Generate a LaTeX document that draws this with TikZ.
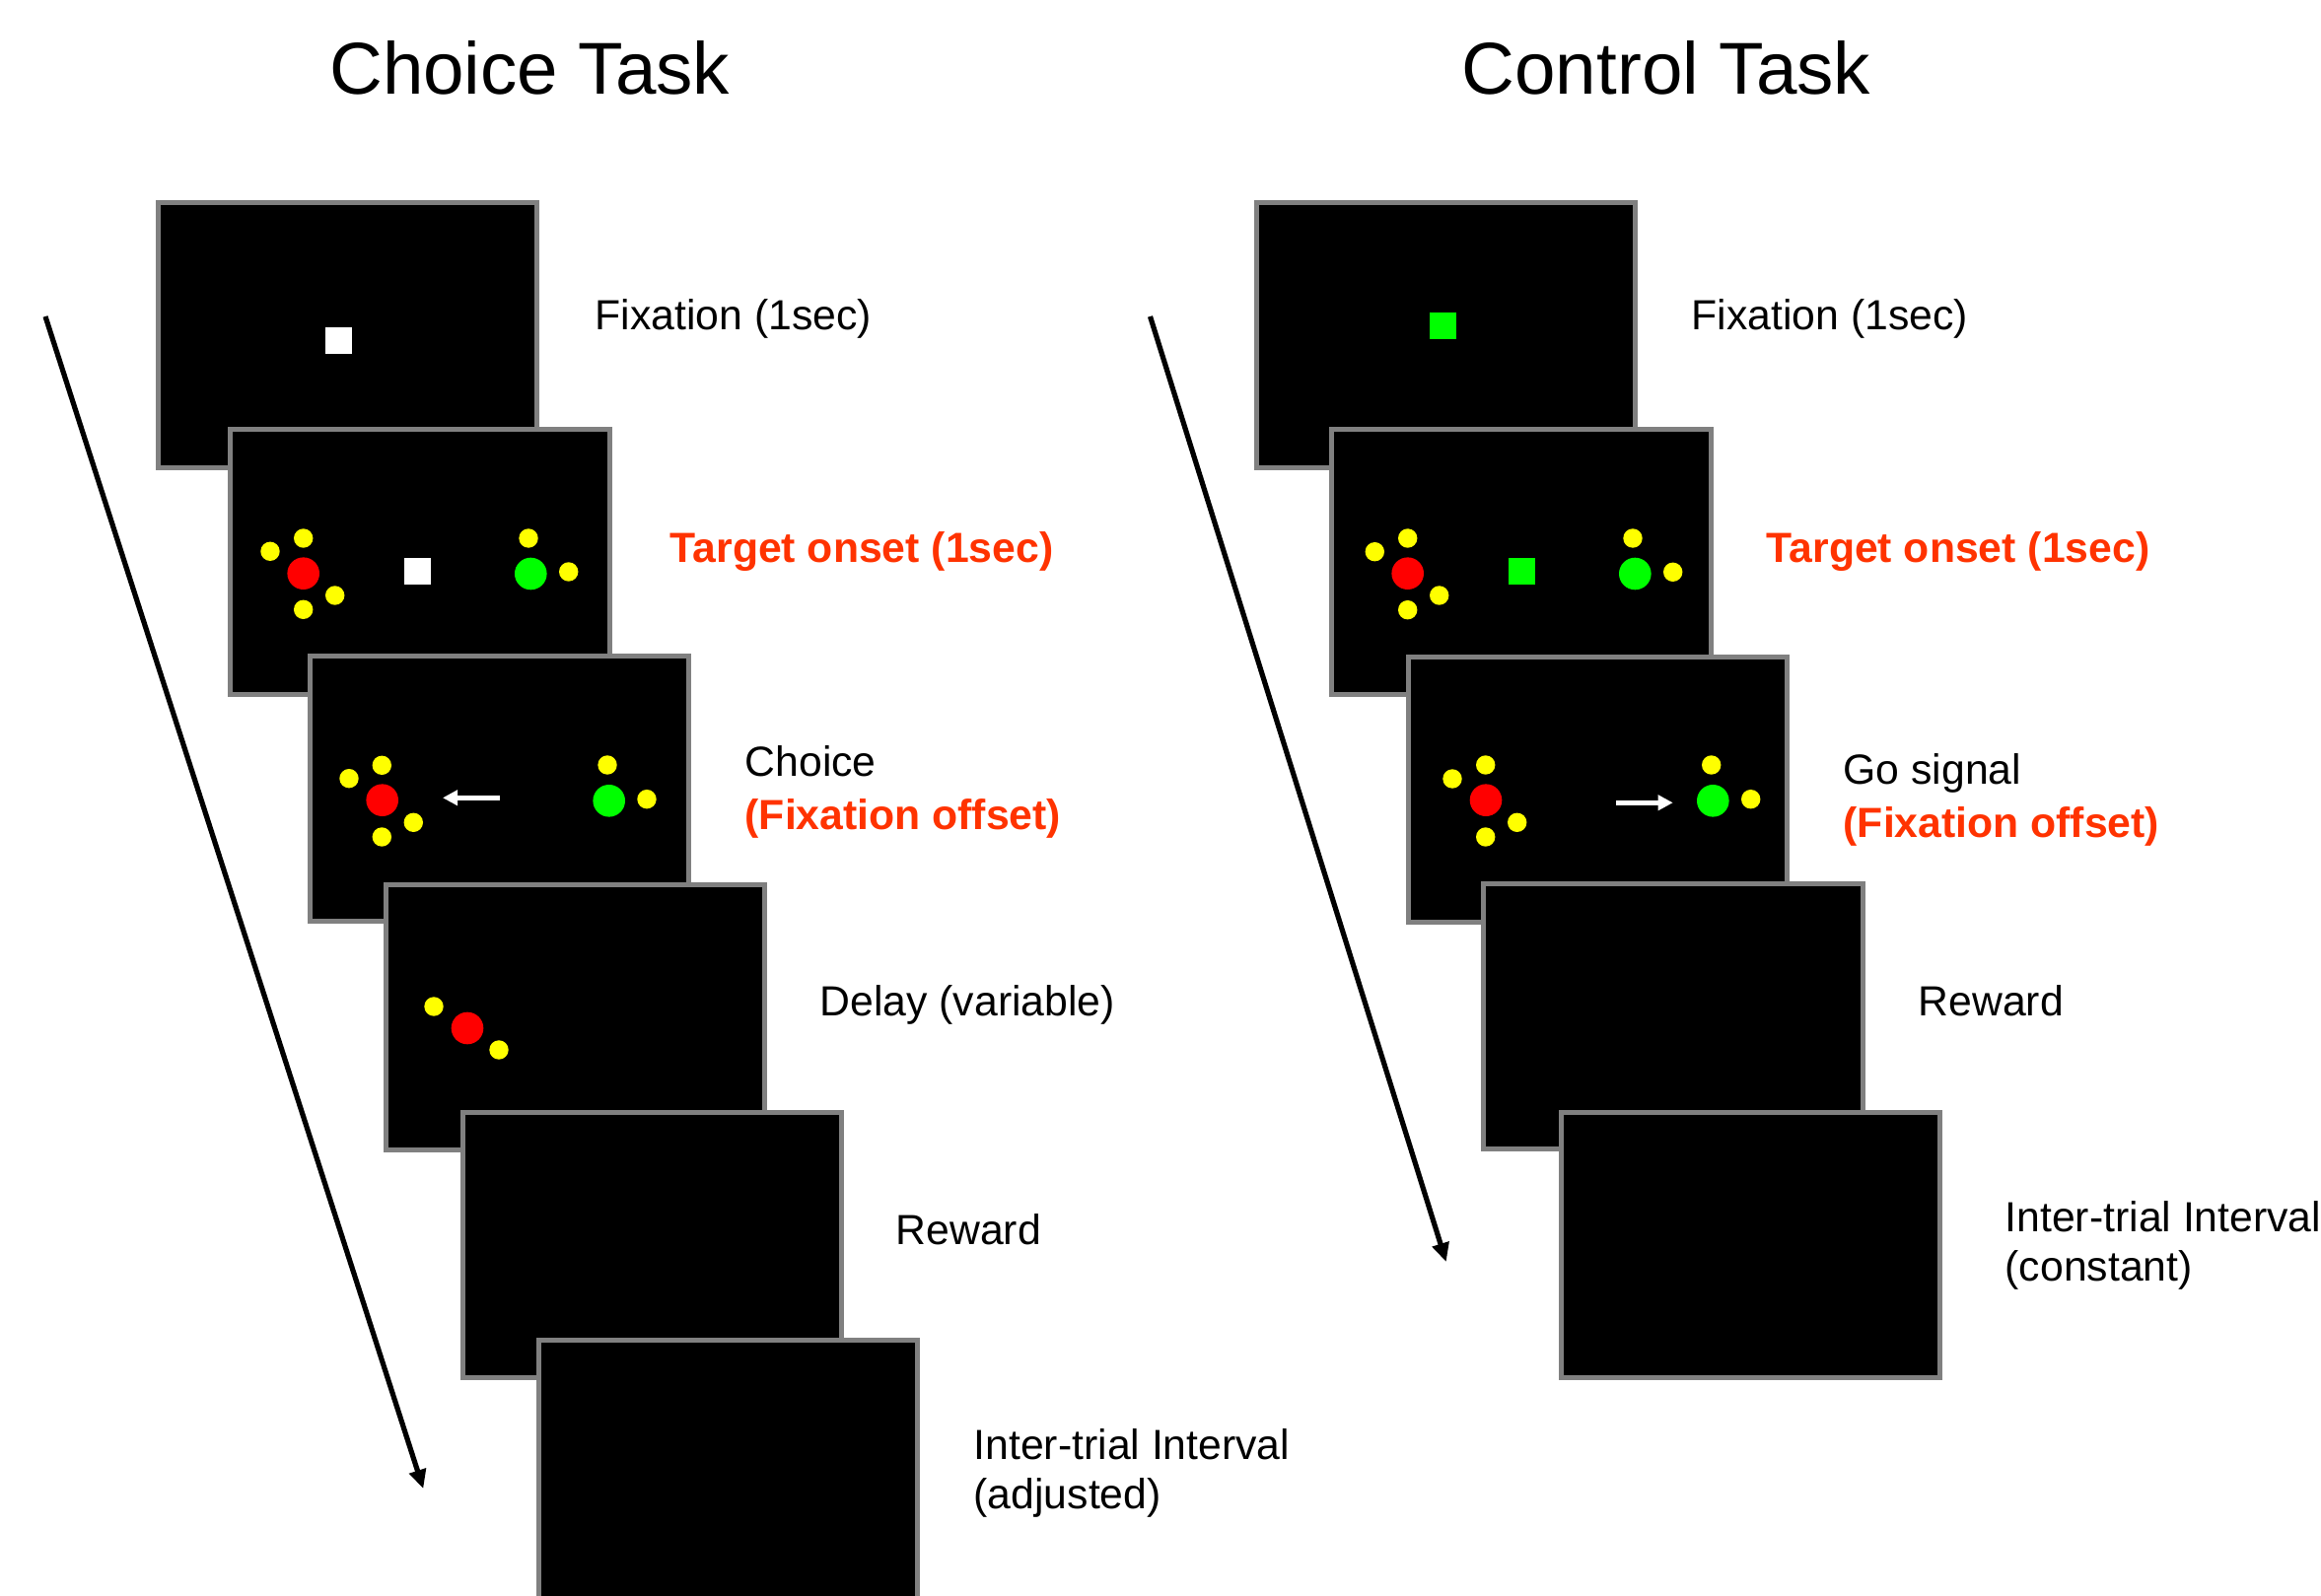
\documentclass[tikz,border=0pt]{standalone}
\usepackage{fontspec}
\setmainfont{Liberation Sans}
\usetikzlibrary{arrows.meta}
\definecolor{frame}{HTML}{808080}
\definecolor{cue}{HTML}{FF3300}
\definecolor{tgtred}{HTML}{FF0000}
\definecolor{tgtgreen}{HTML}{00FF00}
\definecolor{optyellow}{HTML}{FFFF00}

\begin{document}
\begin{tikzpicture}[x=0.01cm,y=-0.01cm,
  screen/.style={draw=frame, fill=black, line width=0.05cm, rectangle,
    inner sep=0pt, outer sep=0pt, minimum width=3.84cm, minimum height=2.69cm,
    anchor=north west},
  lbl/.style={anchor=base west, inner sep=0pt, font=\fontsize{12.15}{15}\selectfont},
  cuelbl/.style={lbl, text=cue, font=\fontsize{12.15}{15}\selectfont\bfseries},
  heading/.style={anchor=base west, inner sep=0pt, font=\fontsize{21.2}{25}\selectfont},
  timeline/.style={line width=0.052cm, -{Triangle[length=0.19cm,width=0.17cm]}},
  cursor/.style={draw=white, line width=0.05cm, -{Triangle[length=0.15cm,width=0.15cm]}},
  opt/.style={fill=optyellow},
  redt/.style={fill=tgtred},
  greent/.style={fill=tgtgreen},
]
\useasboundingbox (0,0) rectangle (2354,1619);
\clip (0,0) rectangle (2354,1619);
\fill[white] (0,0) rectangle (2354,1619);

% ---------- headings ----------
\node[heading] (hchoice) at (333.5,96) {Choice Task};
\node[heading] (hcontrol) at (1482,96) {Control Task};

% ---------- time axes ----------
\coordinate (ta1) at (46,321);
\coordinate (ta2) at (429.3,1510);
\draw[timeline] (ta1) -- (ta2);
\coordinate (tb1) at (1166.5,321);
\coordinate (tb2) at (1466.7,1280);
\draw[timeline] (tb1) -- (tb2);

% ================= Choice task =================
% fixation
\node[screen] (c1) at (160.5,205.5) {};
\fill[white] (330,332) rectangle (357,359);
% target onset
\node[screen] (c2) at (233.8,435.8) {};
\fill[redt] (307.7,581.7) circle [radius=0.163cm];
\fill[opt] (274,559.3) circle [radius=0.097cm];
\fill[opt] (307.7,546) circle [radius=0.097cm];
\fill[opt] (339.7,604) circle [radius=0.097cm];
\fill[opt] (307.7,618.3) circle [radius=0.097cm];
\fill[white] (410,566) rectangle (436.7,592.7);
\fill[greent] (538.3,582) circle [radius=0.163cm];
\fill[opt] (536,546) circle [radius=0.097cm];
\fill[opt] (576.7,580) circle [radius=0.097cm];
% choice
\node[screen] (c3) at (314.5,665.5) {};
\fill[redt] (387.7,811.7) circle [radius=0.163cm];
\fill[opt] (354,789.7) circle [radius=0.097cm];
\fill[opt] (387.3,776.3) circle [radius=0.097cm];
\fill[opt] (419.3,834.3) circle [radius=0.097cm];
\fill[opt] (387.3,849) circle [radius=0.097cm];
\coordinate (ca1) at (506.7,809.3);
\coordinate (ca2) at (449,809.3);
\draw[cursor] (ca1) -- (ca2);
\fill[greent] (617.7,812.3) circle [radius=0.163cm];
\fill[opt] (616,776) circle [radius=0.097cm];
\fill[opt] (656,810.7) circle [radius=0.097cm];
% delay
\node[screen] (c4) at (391.5,897.5) {};
\fill[redt] (474,1043) circle [radius=0.163cm];
\fill[opt] (440,1021) circle [radius=0.097cm];
\fill[opt] (506,1065) circle [radius=0.097cm];
% reward
\node[screen] (c5) at (469.5,1128) {};
% inter-trial interval
\node[screen] (c6) at (546,1359.5) {};

\node[lbl] (lc1) at (603,335) {Fixation (1sec)};
\node[cuelbl] (lc2) at (679,571) {Target onset (1sec)};
\node[lbl] (lc3) at (755,788) {Choice};
\node[cuelbl] (lc3b) at (755,842) {(Fixation offset)};
\node[lbl] (lc4) at (831,1031) {Delay (variable)};
\node[lbl] (lc5) at (908,1262) {Reward};
\node[lbl] (lc6) at (987,1480) {Inter-trial Interval};
\node[lbl] (lc6b) at (987,1530) {(adjusted)};

% ================= Control task =================
% fixation
\node[screen] (k1) at (1274,205.5) {};
\fill[greent] (1450,317) rectangle (1477,344);
% target onset
\node[screen] (k2) at (1350.8,435.8) {};
\fill[redt] (1427.7,581.7) circle [radius=0.163cm];
\fill[opt] (1394.3,559.7) circle [radius=0.097cm];
\fill[opt] (1427.7,546) circle [radius=0.097cm];
\fill[opt] (1459.7,604) circle [radius=0.097cm];
\fill[opt] (1427.7,618.7) circle [radius=0.097cm];
\fill[greent] (1530,566) rectangle (1557,592.7);
\fill[greent] (1658.3,582) circle [radius=0.163cm];
\fill[opt] (1656,546) circle [radius=0.097cm];
\fill[opt] (1696.7,580.3) circle [radius=0.097cm];
% go signal
\node[screen] (k3) at (1428.2,666.5) {};
\fill[redt] (1507,811.7) circle [radius=0.163cm];
\fill[opt] (1473,790) circle [radius=0.097cm];
\fill[opt] (1506.7,776) circle [radius=0.097cm];
\fill[opt] (1538.7,834.3) circle [radius=0.097cm];
\fill[opt] (1506.7,849) circle [radius=0.097cm];
\coordinate (ka1) at (1639.3,814.3);
\coordinate (ka2) at (1696.7,814.3);
\draw[cursor] (ka1) -- (ka2);
\fill[greent] (1737.3,812.3) circle [radius=0.163cm];
\fill[opt] (1735.7,776) circle [radius=0.097cm];
\fill[opt] (1775.7,810.7) circle [radius=0.097cm];
% reward
\node[screen] (k4) at (1504.8,896.8) {};
% inter-trial interval
\node[screen] (k5) at (1583,1128) {};

\node[lbl] (lk1) at (1715,335) {Fixation (1sec)};
\node[cuelbl] (lk2) at (1791,571) {Target onset (1sec)};
\node[lbl] (lk3) at (1869,796) {Go signal};
\node[cuelbl] (lk3b) at (1869,850) {(Fixation offset)};
\node[lbl] (lk4) at (1945,1031) {Reward};
\node[lbl] (lk5) at (2033,1249) {Inter-trial Interval};
\node[lbl] (lk5b) at (2033,1299) {(constant)};
\end{tikzpicture}
\end{document}
